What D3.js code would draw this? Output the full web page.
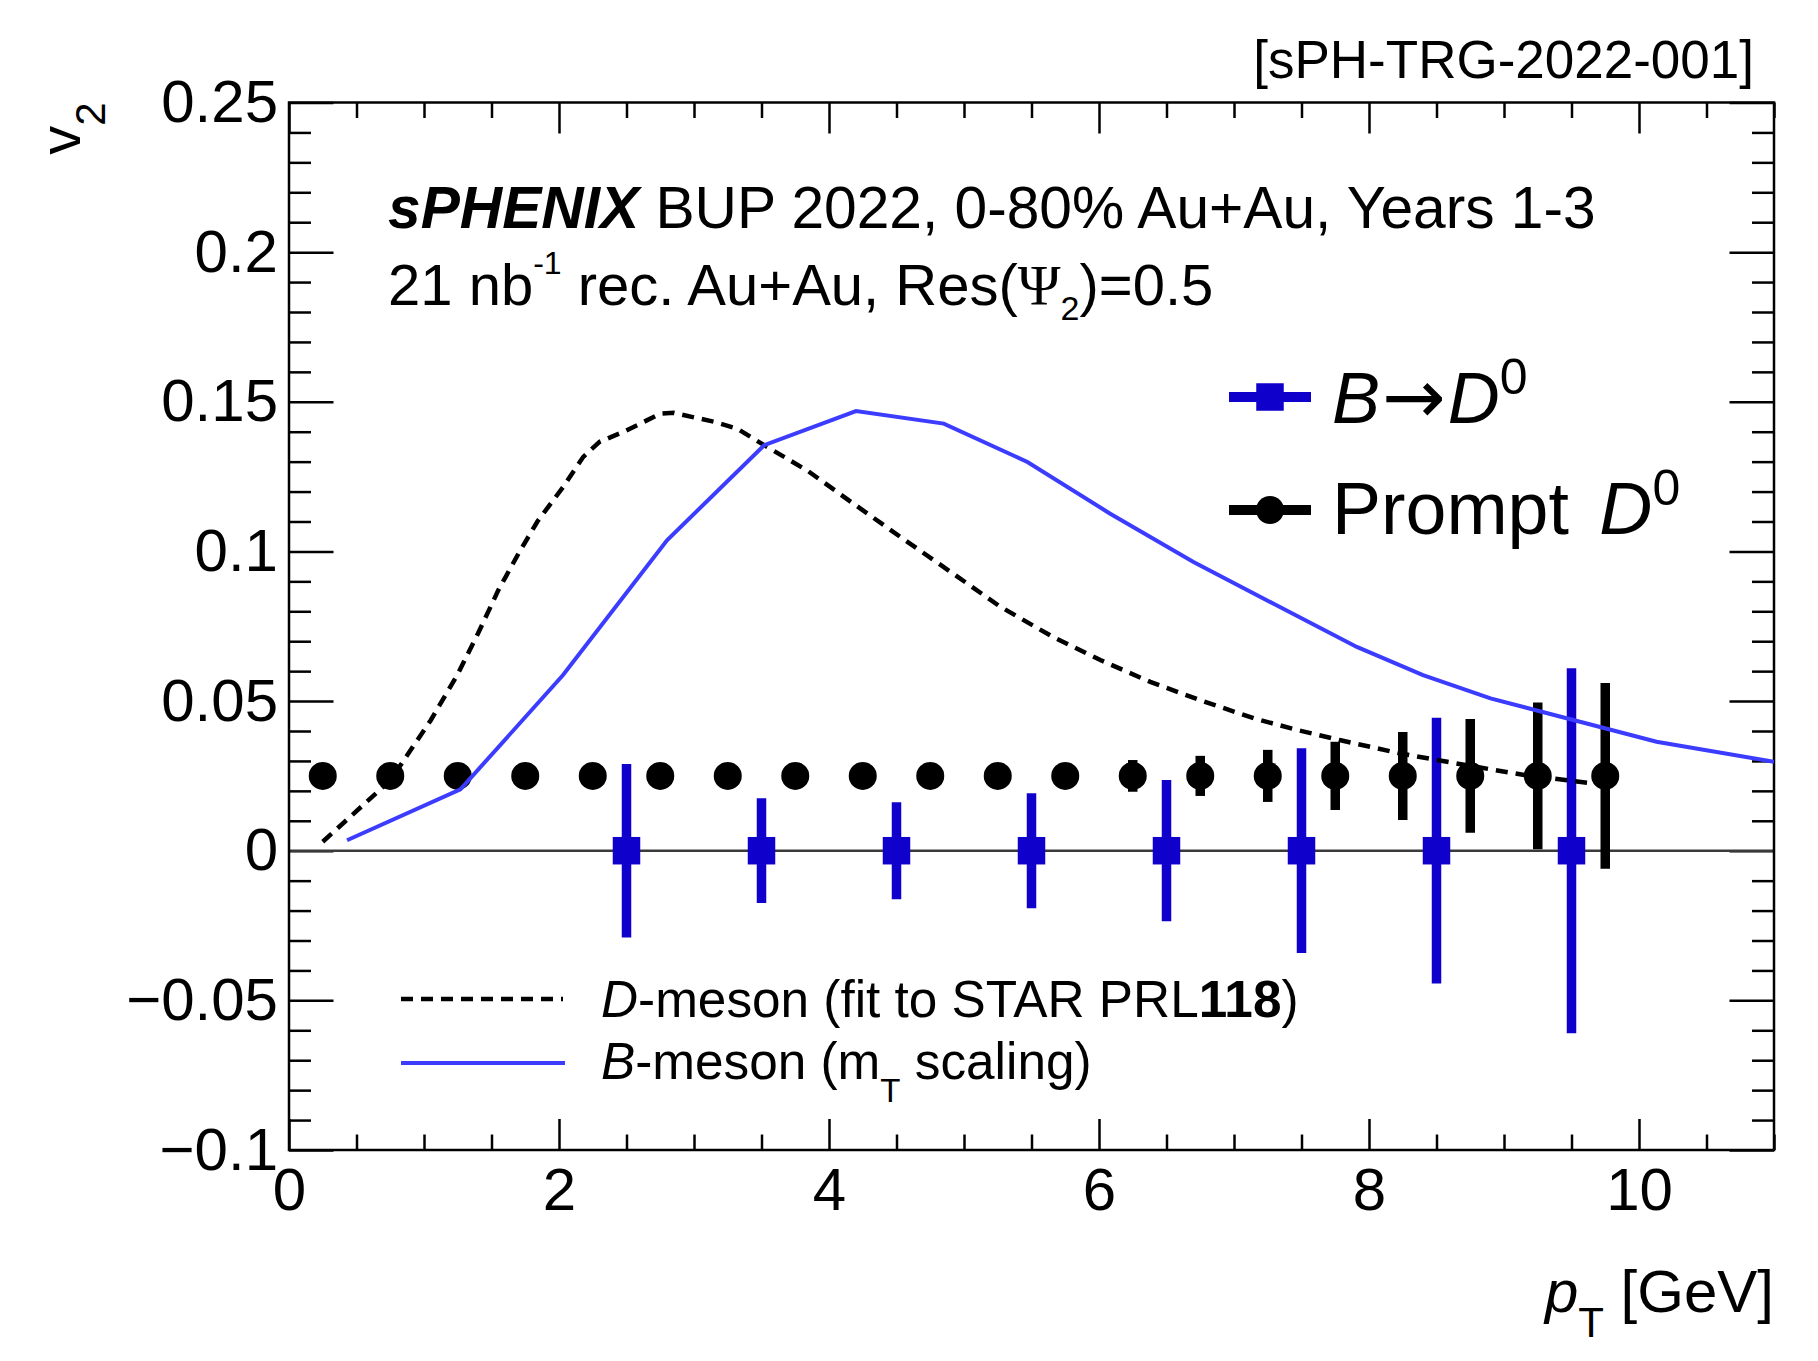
<!DOCTYPE html>
<html>
<head>
<meta charset="utf-8">
<script src="https://cdn.jsdelivr.net/npm/d3@7"></script>
<style>
  html, body { margin: 0; padding: 0; background: #ffffff; }
  svg { display: block; font-family: "Liberation Sans", Arial, Helvetica, sans-serif; }
  text { white-space: pre; }
</style>
</head>
<body>
<svg id="chart" width="1818" height="1361"></svg>
<script>
// ---- data ----
// Prompt D0 projected v2 points
const promptPt  = [0.25, 0.75, 1.25, 1.75, 2.25, 2.75, 3.25, 3.75, 4.25, 4.75,
                   5.25, 5.75, 6.25, 6.75, 7.25, 7.75, 8.25, 8.75, 9.25, 9.75];
const promptV2  = [0.025, 0.025, 0.025, 0.025, 0.025, 0.025, 0.025, 0.025, 0.025, 0.025,
                   0.025, 0.025, 0.025, 0.025, 0.025, 0.025, 0.025, 0.025, 0.025, 0.025];
const promptErr = [0.0010, 0.0010, 0.0010, 0.0011, 0.0012, 0.0013, 0.0015, 0.0017, 0.0019, 0.0022,
                   0.0027, 0.0035, 0.0053, 0.0067, 0.0087, 0.0114, 0.0147, 0.0190, 0.0245, 0.0310];

// B -> D0 projected v2 points
const nonPromptPt  = [2.5, 3.5, 4.5, 5.5, 6.5, 7.5, 8.5, 9.5];
const nonPromptV2  = [0, 0, 0, 0, 0, 0, 0, 0];
const nonPromptErr = [0.0290, 0.0175, 0.0162, 0.0192, 0.0236, 0.0342, 0.0444, 0.0610];

// D-meson v2 (fit to STAR PRL 118)
const dMesonPt = [0.25, 0.75, 1.05, 1.25, 1.40, 1.55, 1.70, 1.84, 2.03, 2.18, 2.30, 2.48, 2.75, 2.85,
                  3.15, 3.32, 3.52, 3.84, 4.18, 4.53, 4.90, 5.27, 5.66, 6.01, 6.38, 6.75, 7.15,
                  7.47, 7.79, 8.23, 8.58, 8.90, 9.15, 9.62];
const dMesonV2 = [0.0030, 0.0235, 0.0436, 0.0590, 0.0726, 0.0870, 0.0993, 0.1100, 0.1215, 0.1316, 0.1366, 0.1400, 0.1460, 0.1463,
                  0.1433, 0.1410, 0.1355, 0.1270, 0.1160, 0.1048, 0.0932, 0.0815, 0.0714, 0.0637, 0.0564, 0.0503, 0.0442,
                  0.0403, 0.0369, 0.0325, 0.0297, 0.0272, 0.0253, 0.0227];

// B-meson v2 (mT scaling)
const bMesonPt = [0.43, 1.27, 2.03, 2.80, 3.52, 4.20, 4.85, 5.47, 6.08, 6.70, 7.29, 7.91, 8.40, 8.90, 9.52, 10.13, 11.0];
const bMesonV2 = [0.0035, 0.0205, 0.0587, 0.1037, 0.1355, 0.1469, 0.1427, 0.1299, 0.1127, 0.0965, 0.0826, 0.0681, 0.0587, 0.0509, 0.0436, 0.0364, 0.0297];

// axis ticks
const xMajorTicks = [0, 2, 4, 6, 8, 10];
const xTickLabels = ["0", "2", "4", "6", "8", "10"];
const yMajorTicks = [-0.1, -0.05, 0, 0.05, 0.1, 0.15, 0.2, 0.25];
const yTickLabels = ["\u22120.1", "\u22120.05", "0", "0.05", "0.1", "0.15", "0.2", "0.25"];

// ---- layout ----
const frame = { left: 289, top: 102.5, right: 1774, bottom: 1150 };
const blueMarker = "#1000cc";
const blueCurve = "#3c3cff";

const svg = d3.select("#chart");
const x = d3.scaleLinear().domain([0, 11]).range([frame.left, frame.right]);
const y = d3.scaleLinear().domain([-0.1, 0.25]).range([frame.bottom, frame.top]);

const xMinor = d3.range(0, 11.001, 0.5).filter(v => !xMajorTicks.includes(v));
const yMinor = d3.range(-0.1, 0.2501, 0.01).map(v => +v.toFixed(3))
  .filter(v => !yMajorTicks.some(t => Math.abs(t - v) < 1e-6));

svg.append("defs").append("clipPath").attr("id", "plotClip")
  .append("rect")
  .attr("x", frame.left).attr("y", frame.top)
  .attr("width", frame.right - frame.left).attr("height", frame.bottom - frame.top);

// ---- axes ----
function styleAxis(g, fontSize) {
  g.attr("font-family", null).attr("font-size", null);
  g.select(".domain").remove();
  g.selectAll(".tick line").attr("stroke", "#000").attr("stroke-width", 2.5);
  g.selectAll(".tick text").attr("fill", "#000").attr("font-size", fontSize);
}

const axes = svg.append("g");
axes.append("g").attr("transform", `translate(0,${frame.bottom})`)
  .call(d3.axisBottom(x).tickValues(xMajorTicks).tickSizeInner(-31).tickSizeOuter(0)
    .tickPadding(17).tickFormat((d, i) => xTickLabels[i]))
  .call(g => styleAxis(g, 60));
axes.append("g").attr("transform", `translate(0,${frame.bottom})`)
  .call(d3.axisBottom(x).tickValues(xMinor).tickSizeInner(-15.5).tickSizeOuter(0).tickFormat(""))
  .call(g => styleAxis(g, 0));
axes.append("g").attr("transform", `translate(0,${frame.top})`)
  .call(d3.axisTop(x).tickValues(xMajorTicks).tickSizeInner(-31).tickSizeOuter(0).tickFormat(""))
  .call(g => styleAxis(g, 0));
axes.append("g").attr("transform", `translate(0,${frame.top})`)
  .call(d3.axisTop(x).tickValues(xMinor).tickSizeInner(-15.5).tickSizeOuter(0).tickFormat(""))
  .call(g => styleAxis(g, 0));

axes.append("g").attr("transform", `translate(${frame.left},0)`)
  .call(d3.axisLeft(y).tickValues(yMajorTicks).tickSizeInner(-44.5).tickSizeOuter(0)
    .tickPadding(11).tickFormat((d, i) => yTickLabels[i]))
  .call(g => styleAxis(g, 60));
axes.append("g").attr("transform", `translate(${frame.left},0)`)
  .call(d3.axisLeft(y).tickValues(yMinor).tickSizeInner(-22).tickSizeOuter(0).tickFormat(""))
  .call(g => styleAxis(g, 0));
axes.append("g").attr("transform", `translate(${frame.right},0)`)
  .call(d3.axisRight(y).tickValues(yMajorTicks).tickSizeInner(-44.5).tickSizeOuter(0).tickFormat(""))
  .call(g => styleAxis(g, 0));
axes.append("g").attr("transform", `translate(${frame.right},0)`)
  .call(d3.axisRight(y).tickValues(yMinor).tickSizeInner(-22).tickSizeOuter(0).tickFormat(""))
  .call(g => styleAxis(g, 0));

// zero line
svg.append("line")
  .attr("x1", x(0)).attr("x2", x(11)).attr("y1", y(0)).attr("y2", y(0))
  .attr("stroke", "#3a3a3a").attr("stroke-width", 2.5);

// frame
svg.append("rect")
  .attr("x", frame.left).attr("y", frame.top)
  .attr("width", frame.right - frame.left).attr("height", frame.bottom - frame.top)
  .attr("fill", "none").attr("stroke", "#000").attr("stroke-width", 2.5);

// ---- points ----
const plot = svg.append("g").attr("clip-path", "url(#plotClip)");

// prompt D0: error bars + circles
plot.append("g").selectAll("line").data(promptPt).join("line")
  .attr("x1", d => x(d)).attr("x2", d => x(d))
  .attr("y1", (d, i) => y(promptV2[i] - promptErr[i]))
  .attr("y2", (d, i) => y(promptV2[i] + promptErr[i]))
  .attr("stroke", "#000").attr("stroke-width", 9.5);
plot.append("g").selectAll("circle").data(promptPt).join("circle")
  .attr("cx", d => x(d)).attr("cy", (d, i) => y(promptV2[i]))
  .attr("r", 14).attr("fill", "#000");

// B -> D0: error bars + squares
const sq = 27.5;
plot.append("g").selectAll("line").data(nonPromptPt).join("line")
  .attr("x1", d => x(d)).attr("x2", d => x(d))
  .attr("y1", (d, i) => y(nonPromptV2[i] - nonPromptErr[i]))
  .attr("y2", (d, i) => y(nonPromptV2[i] + nonPromptErr[i]))
  .attr("stroke", blueMarker).attr("stroke-width", 9.5);
plot.append("g").selectAll("rect").data(nonPromptPt).join("rect")
  .attr("x", d => x(d) - sq / 2).attr("y", (d, i) => y(nonPromptV2[i]) - sq / 2)
  .attr("width", sq).attr("height", sq).attr("fill", blueMarker);

// ---- model curves ----
const line = d3.line().x(d => x(d[0])).y(d => y(d[1]));
plot.append("path")
  .datum(dMesonPt.map((p, i) => [p, dMesonV2[i]]))
  .attr("d", line).attr("fill", "none")
  .attr("stroke", "#000").attr("stroke-width", 4.5).attr("stroke-dasharray", "12 8");
plot.append("path")
  .datum(bMesonPt.map((p, i) => [p, bMesonV2[i]]))
  .attr("d", line).attr("fill", "none")
  .attr("stroke", blueCurve).attr("stroke-width", 4);

// ---- legends ----
const leg = svg.append("g");
// B -> D0
leg.append("line").attr("x1", 1229).attr("x2", 1311).attr("y1", 397).attr("y2", 397)
  .attr("stroke", blueMarker).attr("stroke-width", 10);
leg.append("rect").attr("x", 1270 - sq / 2).attr("y", 397 - sq / 2)
  .attr("width", sq).attr("height", sq).attr("fill", blueMarker);
const t1 = leg.append("text").attr("x", 1332).attr("y", 423).attr("font-size", 72);
t1.append("tspan").attr("font-style", "italic").text("B");
t1.append("tspan").attr("font-family", "'DejaVu Sans', sans-serif").attr("font-size", 76)
  .attr("dx", 2).text("\u2192");
t1.append("tspan").attr("font-style", "italic").attr("dx", 2).text("D");
t1.append("tspan").attr("font-size", 50).attr("dy", -29).text("0");

// Prompt D0
leg.append("line").attr("x1", 1229).attr("x2", 1311).attr("y1", 510).attr("y2", 510)
  .attr("stroke", "#000").attr("stroke-width", 10);
leg.append("circle").attr("cx", 1270).attr("cy", 510).attr("r", 14).attr("fill", "#000");
const t2 = leg.append("text").attr("x", 1332).attr("y", 534).attr("font-size", 73.5);
t2.append("tspan").text("Prompt ");
t2.append("tspan").attr("dx", 10).attr("font-style", "italic").text("D");
t2.append("tspan").attr("font-size", 50).attr("dy", -29).text("0");

// curve legend
leg.append("line").attr("x1", 401).attr("x2", 563).attr("y1", 999).attr("y2", 999)
  .attr("stroke", "#000").attr("stroke-width", 4.5).attr("stroke-dasharray", "12 8");
leg.append("line").attr("x1", 401).attr("x2", 565).attr("y1", 1063).attr("y2", 1063)
  .attr("stroke", blueCurve).attr("stroke-width", 4);
const t3 = leg.append("text").attr("x", 601).attr("y", 1017).attr("font-size", 51.3);
t3.append("tspan").attr("font-style", "italic").text("D");
t3.append("tspan").text("-meson (fit to STAR PRL");
t3.append("tspan").attr("font-weight", "bold").text("118");
t3.append("tspan").text(")");
const t4 = leg.append("text").attr("x", 601).attr("y", 1079).attr("font-size", 51.3);
t4.append("tspan").attr("font-style", "italic").text("B");
t4.append("tspan").text("-meson (m");
t4.append("tspan").attr("font-size", 33).attr("dy", 23).text("T");
t4.append("tspan").attr("dy", -23).text(" scaling)");

// ---- header text ----
const h1 = svg.append("text").attr("x", 388).attr("y", 228).attr("font-size", 58.7);
h1.append("tspan").attr("font-weight", "bold").attr("font-style", "italic").text("sPHENIX");
h1.append("tspan").text(" BUP 2022, 0-80% Au+Au, Years 1-3");

const h2 = svg.append("text").attr("x", 388).attr("y", 305).attr("font-size", 58);
h2.append("tspan").text("21 nb");
h2.append("tspan").attr("font-size", 32).attr("dy", -31).text("-1");
h2.append("tspan").attr("dy", 31).text(" rec. Au+Au, Res(");
h2.append("tspan").attr("font-family", "'Liberation Serif', 'DejaVu Serif', serif").text("\u03A8");
h2.append("tspan").attr("font-size", 34).attr("dy", 15).text("2");
h2.append("tspan").attr("dy", -15).text(")=0.5");

svg.append("text").attr("x", 1754).attr("y", 78).attr("font-size", 53)
  .attr("text-anchor", "end").text("[sPH-TRG-2022-001]");

// ---- axis titles ----
const xt = svg.append("text").attr("x", frame.right).attr("y", 1312)
  .attr("font-size", 60).attr("text-anchor", "end");
xt.append("tspan").attr("font-style", "italic").text("p");
xt.append("tspan").attr("font-size", 42).attr("dy", 25).text("T");
xt.append("tspan").attr("dy", -25).text(" [GeV]");

const yt = svg.append("text").attr("transform", `translate(80,${frame.top}) rotate(-90)`)
  .attr("font-size", 58).attr("text-anchor", "end");
yt.append("tspan").text("v");
yt.append("tspan").attr("font-size", 42).attr("dy", 25).text("2");
</script>
</body>
</html>
